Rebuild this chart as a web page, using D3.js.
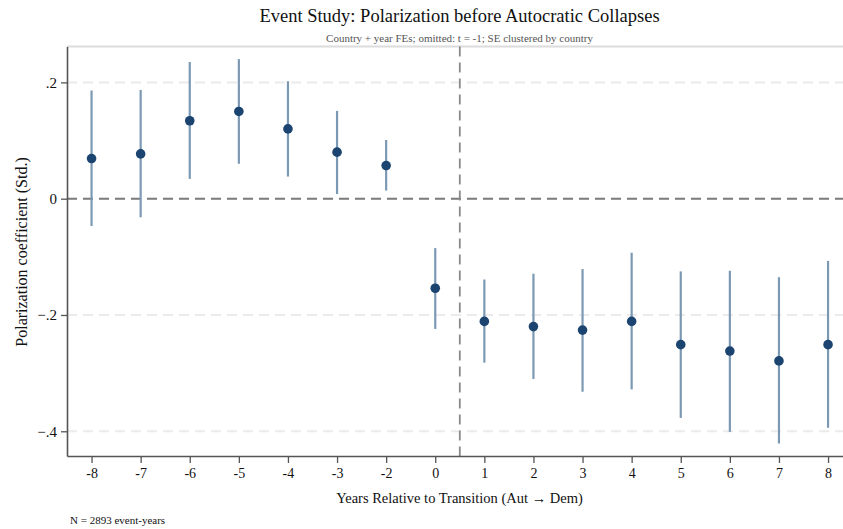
<!DOCTYPE html>
<html>
<head>
<meta charset="utf-8">
<script src="https://cdn.jsdelivr.net/npm/d3@7"></script>
<style>
  body { margin: 0; background: #fff; }
  svg { display: block; font-family: "Liberation Serif", "Times New Roman", serif; }
</style>
</head>
<body>
<svg id="chart" width="843" height="529"></svg>
<script>
// event time (t = -1 omitted)
var periods = [-8, -7, -6, -5, -4, -3, -2, 0, 1, 2, 3, 4, 5, 6, 7, 8];
var coefs = [0.069, 0.077, 0.134, 0.150, 0.120, 0.080, 0.057, -0.154,
             -0.211, -0.220, -0.226, -0.211, -0.251, -0.262, -0.279, -0.251];
var ciLow = [-0.047, -0.032, 0.034, 0.060, 0.038, 0.008, 0.014, -0.224,
             -0.282, -0.310, -0.332, -0.328, -0.377, -0.401, -0.421, -0.394];
var ciHigh = [0.186, 0.187, 0.235, 0.240, 0.202, 0.151, 0.101, -0.085,
              -0.139, -0.129, -0.121, -0.093, -0.125, -0.124, -0.135, -0.107];
var yTicks = [-0.4, -0.2, 0, 0.2];

(function() {
  var svg = d3.select('#chart');

  var plotLeft = 67, plotTop = 46.5, plotBottom = 456;
  var step = 49.1;

  var x = d3.scaleLinear()
    .domain([-0.5, periods.length - 0.5])
    .range([plotLeft, plotLeft + step * periods.length]);

  var y = d3.scaleLinear()
    .domain([-0.4425, 0.2617])
    .range([plotBottom, plotTop]);

  var data = periods.map(function(p, i) {
    return { t: p, i: i, b: coefs[i], lo: ciLow[i], hi: ciHigh[i] };
  });

  var fmt = function(v) {
    if (v === 0) return '0';
    return d3.format('.1f')(v).replace('0.', '.');
  };

  // top frame line
  svg.append('line')
    .attr('x1', plotLeft).attr('x2', 843)
    .attr('y1', plotTop).attr('y2', plotTop)
    .attr('stroke', '#dcdcdc').attr('stroke-width', 2);

  // light gridlines
  svg.append('g')
    .selectAll('line')
    .data(yTicks.filter(function(d) { return d !== 0; }))
    .enter().append('line')
    .attr('x1', plotLeft).attr('x2', 843)
    .attr('y1', function(d) { return y(d); })
    .attr('y2', function(d) { return y(d); })
    .attr('stroke', '#ebebeb')
    .attr('stroke-width', 2)
    .attr('stroke-dasharray', '10,6');

  // zero reference
  svg.append('line')
    .attr('x1', plotLeft).attr('x2', 843)
    .attr('y1', y(0)).attr('y2', y(0))
    .attr('stroke', '#7a7a7a')
    .attr('stroke-width', 2)
    .attr('stroke-dasharray', '10,6');

  // transition reference (between t=0 and t=1)
  svg.append('line')
    .attr('x1', x(7.5)).attr('x2', x(7.5))
    .attr('y1', plotTop).attr('y2', plotBottom)
    .attr('stroke', '#8a8a8a')
    .attr('stroke-width', 1.8)
    .attr('stroke-dasharray', '10,6');

  // axes
  var yAxis = d3.axisLeft(y).tickValues(yTicks).tickFormat(fmt)
    .tickSizeInner(6).tickSizeOuter(0).tickPadding(4);
  var gy = svg.append('g').attr('transform', 'translate(' + plotLeft + ',0)').call(yAxis);
  gy.select('.domain').attr('stroke', '#555').attr('stroke-width', 1.6);
  gy.selectAll('.tick line').attr('stroke', '#555').attr('stroke-width', 1.3);
  gy.selectAll('.tick text')
    .attr('fill', '#111')
    .style('font-size', '15px')
    .style('font-family', '"Liberation Serif", serif');

  var xAxis = d3.axisBottom(x)
    .tickValues(d3.range(periods.length))
    .tickFormat(function(i) { return periods[i]; })
    .tickSizeInner(7).tickSizeOuter(0).tickPadding(5);
  var gx = svg.append('g').attr('transform', 'translate(0,' + plotBottom + ')').call(xAxis);
  gx.select('.domain').attr('stroke', '#555').attr('stroke-width', 1.6);
  gx.selectAll('.tick line').attr('stroke', '#555').attr('stroke-width', 1.3);
  gx.selectAll('.tick text')
    .attr('fill', '#111')
    .style('font-size', '14px')
    .style('font-family', '"Liberation Serif", serif');

  // confidence intervals
  svg.append('g')
    .selectAll('line')
    .data(data)
    .enter().append('line')
    .attr('x1', function(d) { return x(d.i); })
    .attr('x2', function(d) { return x(d.i); })
    .attr('y1', function(d) { return y(d.lo); })
    .attr('y2', function(d) { return y(d.hi); })
    .attr('stroke', '#7c99b4')
    .attr('stroke-width', 2.2);

  // point estimates
  svg.append('g')
    .selectAll('circle')
    .data(data)
    .enter().append('circle')
    .attr('cx', function(d) { return x(d.i); })
    .attr('cy', function(d) { return y(d.b); })
    .attr('r', 4.8)
    .attr('fill', '#1b4470');

  // titles
  var midX = (plotLeft + 852) / 2;
  svg.append('text')
    .attr('x', midX).attr('y', 22)
    .attr('text-anchor', 'middle')
    .style('font-size', '18.5px')
    .attr('fill', '#111')
    .text('Event Study: Polarization before Autocratic Collapses');

  svg.append('text')
    .attr('x', midX).attr('y', 42)
    .attr('text-anchor', 'middle')
    .style('font-size', '11px')
    .attr('fill', '#555')
    .text('Country + year FEs; omitted: t = -1; SE clustered by country');

  svg.append('text')
    .attr('x', midX).attr('y', 503)
    .attr('text-anchor', 'middle')
    .style('font-size', '14.5px')
    .attr('fill', '#111')
    .text('Years Relative to Transition (Aut \u2192 Dem)');

  svg.append('text')
    .attr('transform', 'translate(27,252) rotate(-90)')
    .attr('text-anchor', 'middle')
    .style('font-size', '16px')
    .attr('fill', '#111')
    .text('Polarization coefficient (Std.)');

  svg.append('text')
    .attr('x', 70).attr('y', 524)
    .style('font-size', '11px')
    .attr('fill', '#111')
    .text('N = 2893 event-years');
})();
</script>
</body>
</html>
